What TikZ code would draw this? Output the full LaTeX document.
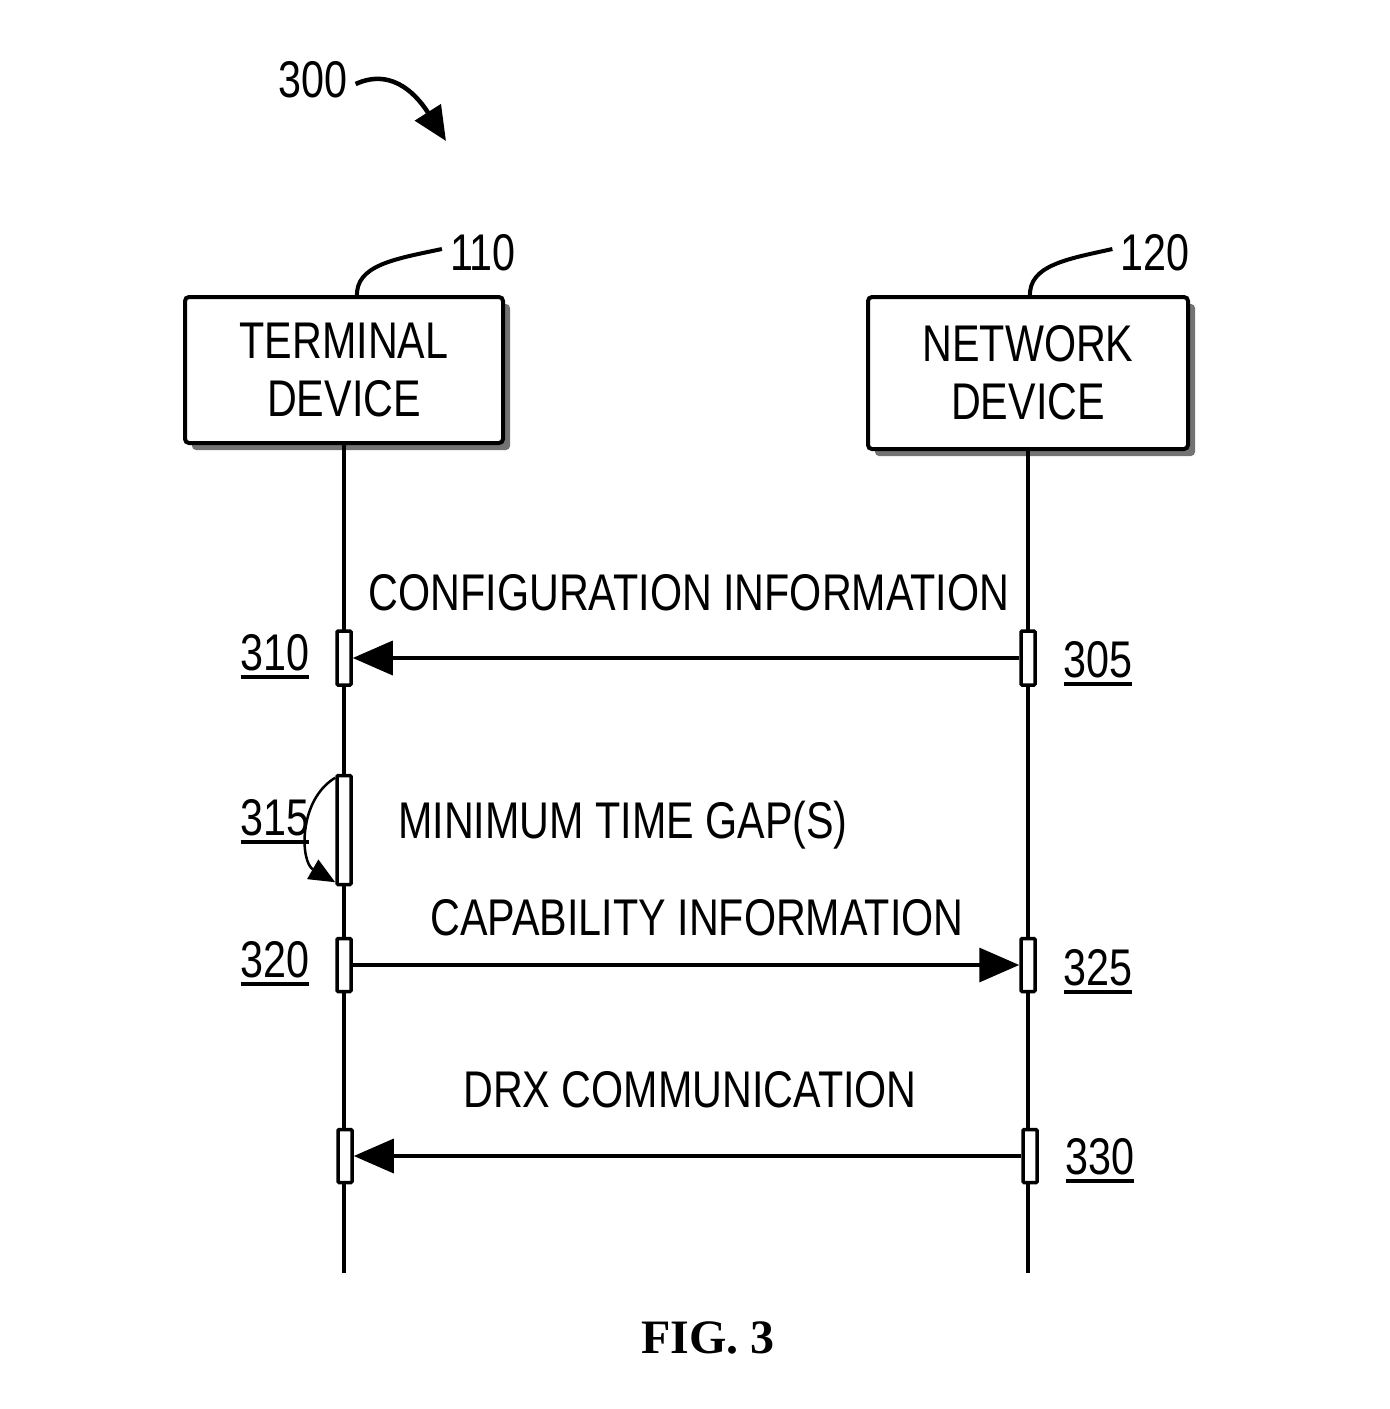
\documentclass[tikz,border=0pt]{standalone}
\usepackage{fontspec}
\setmainfont[FakeStretch=0.8]{Liberation Sans}
\newfontfamily\figfont{Liberation Serif}
\usetikzlibrary{arrows.meta,shadows}
\newcommand{\ulnum}[1]{\setbox0=\hbox{#1}\leavevmode\vtop{\copy0\kern4pt\hrule height 4pt width \wd0}}
\tikzset{
  txt/.style={font=\fontsize{51.6pt}{58pt}\selectfont, inner sep=0pt},
  devbox/.style={draw, line width=4pt, rounded corners=4pt, fill=white, align=center,
    font=\fontsize{51.6pt}{58pt}\selectfont,
    drop shadow={shadow xshift=7pt, shadow yshift=-7pt, fill=black!55, opacity=1}},
  act/.style={draw, line width=3.5pt, fill=white, minimum width=14pt, inner sep=0pt, rounded corners=1pt},
  life/.style={line width=3.5pt},
  msg/.style={line width=3.5pt, -{Triangle[length=40pt,width=34pt]}},
  lead/.style={line width=4pt},
}
\begin{document}
\begin{tikzpicture}[x=1pt,y=-1pt]
\useasboundingbox (0,0) rectangle (1390,1409);
% figure label
\node[txt] (n300) at (313,80) {300};
\coordinate (t300) at (446,141);
\draw[line width=4.5pt, -{Triangle[length=34pt,width=30pt]}] ([xshift=8pt,yshift=-4pt]n300.east) .. controls (395,66) and (420,100) .. (t300);
% devices
\node[devbox, minimum width=318pt, minimum height=146pt] (term) at (344,370) {TERMINAL\\DEVICE};
\node[devbox, minimum width=320pt, minimum height=152pt] (net) at (1028,373) {NETWORK\\DEVICE};
\node[txt] (n110) at (483,253) {110};
\node[txt] (n120) at (1155,253) {120};
\draw[lead] (357,297) .. controls (355,265) and (395,259) .. ([xshift=-8pt,yshift=4pt]n110.west);
\draw[lead] (1030,297) .. controls (1028,265) and (1068,259) .. ([xshift=-8pt,yshift=4pt]n120.west);
% lifelines
\coordinate (lend) at (344,1273);
\coordinate (rend) at (1028,1273);
\draw[life] (term.south) -- (lend);
\draw[life] (net.south) -- (rend);
% activations
\node[act, minimum height=54pt] (a310) at (344,658) {};
\node[act, minimum height=54pt] (a305) at (1028,658) {};
\node[act, minimum height=109pt] (a315) at (344,830) {};
\node[act, minimum height=53pt] (a320) at (344,965) {};
\node[act, minimum height=53pt] (a325) at (1028,965) {};
\node[act, minimum height=53pt] (a330l) at (345,1156) {};
\node[act, minimum height=53pt] (a330r) at (1030,1156) {};
% messages
\draw[msg] (a305.west) -- (a310.east);
\draw[msg] (a320.east) -- (a325.west);
\draw[msg] (a330r.west) -- (a330l.east);
% self arrow
\draw[line width=2.5pt, -{Triangle[length=26pt,width=22pt]}] ([yshift=-4pt]a315.north west) .. controls (298,800) and (300,862) .. ([yshift=4pt]a315.south west);
% labels
\node[txt] (lconf) at (689,593) {CONFIGURATION INFORMATION};
\node[txt] (lmin) at (623,825) {MINIMUM TIME GAP(S)};
\node[txt] (lcap) at (697,918) {CAPABILITY INFORMATION};
\node[txt] (ldrx) at (690,1090) {DRX COMMUNICATION};
% reference numbers
\node[txt, anchor=base] (r310) at (275,670) {\ulnum{310}};
\node[txt, anchor=base] (r305) at (1098,677) {\ulnum{305}};
\node[txt, anchor=base] (r315) at (275,835) {\ulnum{315}};
\node[txt, anchor=base] (r320) at (275,977) {\ulnum{320}};
\node[txt, anchor=base] (r325) at (1098,985) {\ulnum{325}};
\node[txt, anchor=base] (r330) at (1100,1174) {\ulnum{330}};
% figure caption
\node[inner sep=0pt, font=\figfont\bfseries\fontsize{48pt}{54pt}\selectfont] (fig) at (708,1338) {FIG. 3};
\end{tikzpicture}
\end{document}
